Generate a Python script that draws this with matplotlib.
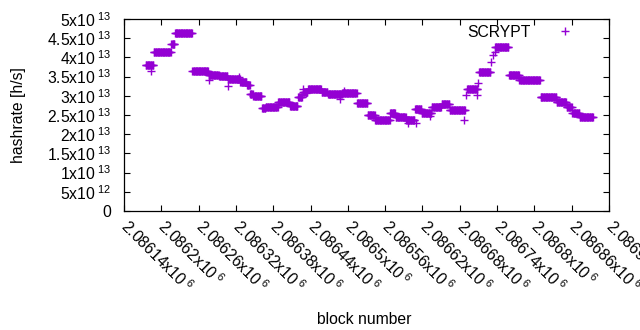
import numpy as np
import matplotlib
matplotlib.use("Agg")
import matplotlib.pyplot as plt

plt.rcParams['font.family'] = ['Liberation Sans', 'DejaVu Sans']
plt.rcParams['mathtext.fontset'] = 'custom'
plt.rcParams['mathtext.rm'] = 'Liberation Sans'
plt.rcParams['mathtext.it'] = 'Liberation Sans:italic'
plt.rcParams['mathtext.bf'] = 'Liberation Sans:bold'

# Step segments: start block, end block, hashrate (h/s)
seg_start = [2086175, 2086188, 2086216, 2086222, 2086250, 2086276, 2086293, 2086307,
             2086314, 2086327, 2086338, 2086343, 2086348, 2086362, 2086368, 2086388,
             2086407, 2086420, 2086428, 2086436, 2086458, 2086468, 2086491, 2086515,
             2086532, 2086544, 2086568, 2086577, 2086594, 2086608, 2086619, 2086635,
             2086651, 2086664, 2086692, 2086711, 2086737, 2086759, 2086776, 2086811,
             2086836, 2086852, 2086861, 2086873]
seg_end = [2086187, 2086215, 2086221, 2086249, 2086275, 2086292, 2086306, 2086313,
           2086326, 2086337, 2086342, 2086347, 2086361, 2086367, 2086387, 2086406,
           2086419, 2086426, 2086435, 2086457, 2086467, 2086490, 2086514, 2086531,
           2086543, 2086567, 2086576, 2086593, 2086607, 2086618, 2086634, 2086650,
           2086663, 2086688, 2086708, 2086729, 2086758, 2086775, 2086809, 2086835,
           2086851, 2086860, 2086872, 2086894]
seg_value = [3.79e13, 4.14e13, 4.34e13, 4.63e13, 3.65e13, 3.54e13, 3.52e13, 3.43e13,
             3.44e13, 3.37e13, 3.27e13, 3.05e13, 2.99e13, 2.68e13, 2.72e13, 2.83e13,
             2.73e13, 2.96e13, 3.10e13, 3.19e13, 3.10e13, 3.04e13, 3.07e13, 2.81e13,
             2.50e13, 2.38e13, 2.56e13, 2.44e13, 2.37e13, 2.65e13, 2.56e13, 2.72e13,
             2.78e13, 2.63e13, 3.18e13, 3.61e13, 4.27e13, 3.54e13, 3.41e13, 2.98e13,
             2.84e13, 2.70e13, 2.54e13, 2.46e13]

# Isolated points
single_block = [2086184, 2086277, 2086307, 2086325, 2086428, 2086433, 2086487, 2086494,
                2086597, 2086610, 2086632, 2086687, 2086690, 2086707, 2086709, 2086730,
                2086733, 2086736, 2086811]
single_value = [3.65e13, 3.41e13, 3.25e13, 3.49e13, 3.17e13, 3.07e13, 2.92e13, 3.13e13,
                2.30e13, 2.30e13, 2.47e13, 2.38e13, 3.02e13, 3.02e13, 3.33e13, 3.88e13,
                4.06e13, 4.15e13, 2.97e13]

x_ticks = [2086140, 2086200, 2086260, 2086320, 2086380, 2086440, 2086500, 2086560,
           2086620, 2086680, 2086740, 2086800, 2086860, 2086920]
x_ticklabels = ['2.08614x10$^{\\ 6}$', '2.0862x10$^{\\ 6}$', '2.08626x10$^{\\ 6}$',
                '2.08632x10$^{\\ 6}$', '2.08638x10$^{\\ 6}$', '2.08644x10$^{\\ 6}$',
                '2.0865x10$^{\\ 6}$', '2.08656x10$^{\\ 6}$', '2.08662x10$^{\\ 6}$',
                '2.08668x10$^{\\ 6}$', '2.08674x10$^{\\ 6}$', '2.0868x10$^{\\ 6}$',
                '2.08686x10$^{\\ 6}$', '2.08692x10$^{\\ 6}$']
y_ticks = [0, 5e12, 1e13, 1.5e13, 2e13, 2.5e13, 3e13, 3.5e13, 4e13, 4.5e13, 5e13]
y_ticklabels = ['0', '5x10$^{\\ 12}$', '1x10$^{\\ 13}$', '1.5x10$^{\\ 13}$', '2x10$^{\\ 13}$',
                '2.5x10$^{\\ 13}$', '3x10$^{\\ 13}$', '3.5x10$^{\\ 13}$', '4x10$^{\\ 13}$',
                '4.5x10$^{\\ 13}$', '5x10$^{\\ 13}$']

bx = []
by = []
for s, e, v in zip(seg_start, seg_end, seg_value):
    for b in range(s, e + 1):
        bx.append(b)
        by.append(v)
bx += single_block
by += single_value

FS = 11.3
fig = plt.figure(figsize=(6.4, 3.3), dpi=100)
ax = fig.add_axes([124/640, 1-211/330, (609-124)/640, (211-19)/330])
color = '#9400D3'
ax.plot(bx, by, linestyle='none', marker='+', markersize=5.4, markeredgewidth=1.0,
        color=color, label='SCRYPT')

ax.set_xlim(2086140, 2086920)
ax.set_ylim(0, 5e13)
ax.set_xticks(x_ticks)
ax.set_xticklabels(x_ticklabels, rotation=-45, ha='left', va='center', rotation_mode='anchor')
ax.set_yticks(y_ticks)
ax.set_yticklabels(y_ticklabels)
ax.tick_params(axis='both', direction='in', length=4, width=0.8, top=True, right=True,
               labelsize=FS, colors='black')
ax.tick_params(axis='x', pad=9)
ax.tick_params(axis='y', pad=9)
for sp in ax.spines.values():
    sp.set_linewidth(0.9)

ax.set_ylabel('hashrate [h/s]', fontsize=FS)
ax.yaxis.set_label_coords(-0.203, 0.5)
ax.set_xlabel('block number', fontsize=FS)
ax.xaxis.set_label_coords(0.495, -0.525)

ax.legend(loc='center right', bbox_to_anchor=(0.9588, 0.932), frameon=False,
          markerfirst=False, handletextpad=0.75, handlelength=3.0, borderpad=0,
          borderaxespad=0, fontsize=FS, markerscale=1.0)

fig.savefig('out.png', dpi=100)
